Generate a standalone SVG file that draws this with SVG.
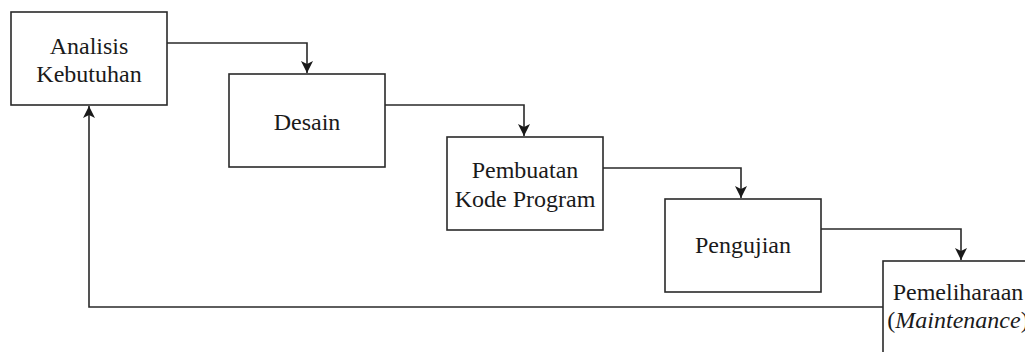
<svg xmlns="http://www.w3.org/2000/svg" width="1025" height="352" viewBox="0 0 1025 352">
<defs>
<marker id="ah" viewBox="0 0 12 12" refX="12" refY="6" markerWidth="12" markerHeight="12" markerUnits="userSpaceOnUse" orient="auto">
<path d="M0,0 L12,6 L0,12 L3,6 Z" fill="#1a1a1a"/>
</marker>
</defs>
<g id="connectors" fill="none" stroke="#2a2a2a" stroke-width="1.6">
<path d="M167,43 H307 V73" marker-end="url(#ah)"/>
<path d="M385,105 H524 V136" marker-end="url(#ah)"/>
<path d="M603,168 H741 V198" marker-end="url(#ah)"/>
<path d="M821,229 H961 V260" marker-end="url(#ah)"/>
<path d="M883,307 H89 V106" marker-end="url(#ah)"/>
</g>
<g font-family="Liberation Serif" font-size="24" text-anchor="middle">
<g id="analisis">
<rect x="11" y="12" width="156" height="93" fill="#fff" stroke="#2a2a2a" stroke-width="1.6"/>
<text x="89" y="54" fill="#1a1a1a">Analisis</text>
<text x="89" y="82" fill="#1a1a1a">Kebutuhan</text>
</g>
<g id="desain">
<rect x="229" y="74" width="156" height="93" fill="#fff" stroke="#2a2a2a" stroke-width="1.6"/>
<text x="307" y="130" fill="#1a1a1a">Desain</text>
</g>
<g id="pembuatan">
<rect x="447" y="137" width="156" height="93" fill="#fff" stroke="#2a2a2a" stroke-width="1.6"/>
<text x="525" y="178" fill="#1a1a1a">Pembuatan</text>
<text x="525" y="207" fill="#1a1a1a">Kode Program</text>
</g>
<g id="pengujian">
<rect x="665" y="199" width="156" height="93" fill="#fff" stroke="#2a2a2a" stroke-width="1.6"/>
<text x="743" y="253" fill="#1a1a1a">Pengujian</text>
</g>
<g id="pemeliharaan">
<rect x="883" y="261" width="160" height="100" fill="#fff" stroke="#2a2a2a" stroke-width="1.6"/>
<text x="958" y="300" fill="#1a1a1a">Pemeliharaan</text>
<text x="958" y="328" fill="#1a1a1a">(<tspan font-style="italic">Maintenance</tspan>)</text>
</g>
</g>
</svg>
